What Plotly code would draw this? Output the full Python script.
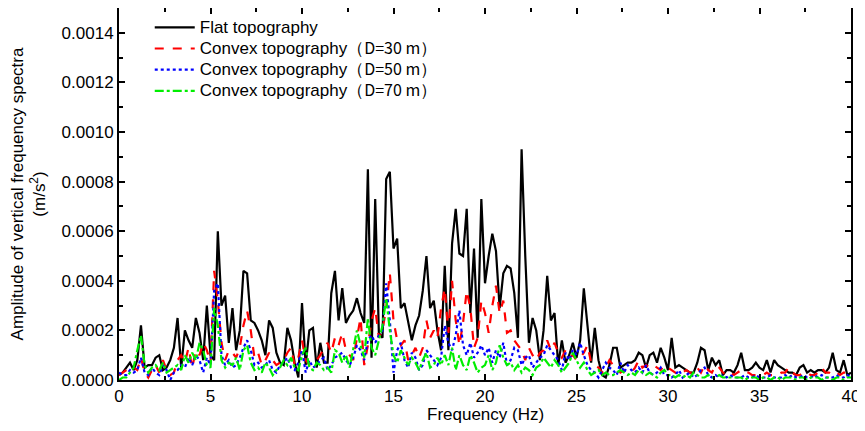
import plotly.graph_objects as go

# Frequency grid (Hz)
freq = [round(i * 0.2, 1) for i in range(201)]
SCALE = 1e-4  # values below are in units of 1e-4 m/s^2

flat = [
    0.2, 0.3, 0.5, 0.7, 0.4,
    0.8, 2.2, 0.5, 0.6, 0.6,
    0.9, 1.0, 0.4, 0.5, 0.8,
    1.3, 2.5, 0.5, 2.0, 1.6,
    1.3, 2.5, 1.9, 0.8, 3.0,
    1.0, 0.8, 6.0, 3.0, 3.4,
    1.5, 2.9, 1.2, 2.0, 4.4,
    4.3, 2.4, 2.3, 2.0, 1.6,
    1.0, 2.4, 2.1, 1.1, 0.7,
    0.6, 2.1, 1.6, 0.7, 0.1,
    3.1, 0.6, 2.0, 2.1, 0.5,
    1.5, 0.7, 0.7, 3.5, 4.4,
    2.4, 3.7, 2.3, 2.6, 2.8,
    3.3, 2.7, 2.3, 8.5, 0.9,
    7.3, 1.9, 1.7, 8.1, 8.4,
    5.3, 5.7, 2.9, 3.1, 2.4,
    1.6, 2.2, 2.6, 3.6, 5.0,
    2.9, 3.2, 2.0, 1.2, 4.6,
    1.2, 5.5, 6.9, 5.1, 5.0,
    6.9, 2.7, 5.3, 1.7, 7.3,
    3.9, 5.0, 5.9, 5.2, 2.9,
    4.3, 4.6, 4.5, 3.5, 1.7,
    9.3, 5.0, 1.5, 2.5, 2.0,
    0.8, 2.0, 4.2, 2.4, 2.7,
    0.6, 1.6, 0.7, 1.0, 1.5,
    0.9, 1.6, 3.7, 2.1, 0.7,
    2.1, 0.8, 0.2, 0.1, 0.6,
    1.3, 1.3, 0.5, 0.6, 0.7,
    0.7, 0.8, 1.1, 1.0, 0.5,
    1.0, 1.1, 0.7, 1.3, 0.9,
    0.4, 1.7, 0.5, 0.6, 0.5,
    0.4, 0.3, 0.3, 0.7, 1.3,
    1.2, 0.4, 0.9, 0.6, 0.8,
    0.2, 0.4, 0.4, 0.3, 0.6,
    1.1, 0.4, 0.4, 0.5, 0.7,
    0.5, 0.4, 0.8, 0.3, 0.8,
    0.6, 0.5, 0.4, 0.3, 0.3,
    0.2, 0.5, 0.6, 0.3, 0.4,
    0.3, 0.4, 0.4, 0.3, 0.5,
    1.1, 0.4, 0.3, 0.8, 0.2,
    0.3,
]

convex30 = [
    0.2, 0.3, 0.4, 0.5, 0.5,
    0.4, 0.9, 0.3, 0.1, 0.4,
    0.6, 0.3, 0.8, 0.4, 0.2,
    0.3, 0.8, 1.0, 0.7, 1.3,
    0.5, 1.2, 1.0, 1.5, 1.2,
    0.7, 4.4, 3.2, 1.5, 0.8,
    1.2, 1.1, 0.9, 1.3, 2.2,
    2.8, 2.0, 0.9, 1.1, 0.6,
    0.8, 1.1, 0.8, 0.6, 0.7,
    0.8, 1.1, 1.3, 0.6, 0.9,
    1.6, 0.8, 0.6, 0.7, 0.8,
    1.0, 1.3, 1.5, 1.1, 1.7,
    1.4, 1.9, 1.2, 1.0, 0.8,
    1.7, 2.5, 0.6, 1.4, 2.4,
    2.9, 1.7, 2.0, 2.9, 4.3,
    2.4, 1.6, 1.4, 1.6, 0.8,
    1.0, 1.3, 0.9, 1.3, 2.4,
    1.7, 2.0, 1.7, 2.9, 3.7,
    1.9, 4.0, 2.4, 1.4, 2.3,
    3.6, 2.9, 1.3, 1.7, 3.2,
    2.7, 1.9, 3.0, 3.8, 2.7,
    3.2, 1.9, 2.0, 1.6, 1.4,
    1.2, 0.8, 1.3, 1.0, 0.8,
    1.1, 1.2, 1.6, 1.2, 1.5,
    1.1, 0.9, 1.2, 0.9, 1.0,
    0.8, 0.9, 1.1, 1.4, 0.7,
    0.6, 0.5, 0.3, 0.5, 0.8,
    0.6, 0.5, 0.3, 0.4, 0.3,
    0.3, 0.5, 0.8, 0.5, 0.6,
    0.5, 0.6, 0.5, 0.4, 0.6,
    0.5, 0.4, 0.3, 0.2, 0.3,
    0.4, 0.3, 0.3, 0.5, 0.3,
    0.6, 0.4, 0.3, 0.6, 0.5,
    0.3, 0.2, 0.3, 0.2, 0.3,
    0.4, 0.3, 0.3, 0.2, 0.2,
    0.2, 0.2, 0.3, 0.2, 0.2,
    0.2, 0.3, 0.3, 0.5, 0.3,
    0.2, 0.2, 0.3, 0.3, 0.2,
    0.2, 0.3, 0.5, 0.3, 0.3,
    0.2, 0.3, 0.2, 0.3, 0.3,
    0.3,
]

convex50 = [
    0.3, 0.2, 0.2, 0.4, 0.3,
    0.4, 0.9, 0.3, 0.2, 0.5,
    0.3, 0.2, 0.6, 0.4, 0.0,
    0.3, 0.4, 0.6, 0.5, 0.9,
    0.6, 1.0, 0.8, 0.3, 0.9,
    0.6, 3.6, 3.9, 1.0, 0.6,
    0.8, 0.5, 0.6, 0.9, 1.3,
    1.6, 1.2, 0.6, 0.7, 0.5,
    0.6, 0.8, 0.4, 0.3, 0.6,
    0.7, 0.9, 0.5, 0.4, 0.7,
    1.2, 0.3, 0.8, 0.5, 0.6,
    0.8, 0.9, 0.4, 0.6, 0.9,
    1.0, 1.1, 0.8, 0.6, 0.9,
    1.4, 1.2, 0.8, 1.6, 1.8,
    1.5, 1.8, 2.0, 3.9, 2.4,
    0.3, 1.2, 1.5, 0.8, 0.5,
    1.1, 0.9, 0.4, 0.6, 1.2,
    1.0, 0.8, 0.6, 0.9, 2.2,
    1.5, 1.2, 1.8, 2.8, 1.4,
    1.0, 1.5, 0.9, 1.1, 1.4,
    1.0, 1.3, 0.7, 1.2, 0.9,
    1.5, 0.6, 0.8, 1.3, 1.2,
    0.6, 0.9, 1.0, 0.5, 0.7,
    0.9, 1.0, 1.4, 1.2, 1.0,
    0.8, 0.4, 1.1, 0.8, 1.2,
    1.0, 1.5, 1.0, 0.6, 0.4,
    0.3, 0.1, 0.4, 0.7, 0.5,
    0.4, 0.2, 0.7, 0.3, 0.6,
    0.4, 0.3, 0.5, 0.3, 0.6,
    0.3, 0.2, 0.3, 0.5, 0.2,
    0.2, 0.1, 0.2, 0.4, 0.1,
    0.2, 0.3, 0.1, 0.2, 0.4,
    0.5, 0.2, 0.1, 0.2, 0.1,
    0.2, 0.1, 0.2, 0.1, 0.1,
    0.1, 0.2, 0.1, 0.1, 0.2,
    0.1, 0.1, 0.1, 0.2, 0.1,
    0.1, 0.1, 0.2, 0.1, 0.2,
    0.1, 0.1, 0.2, 0.1, 0.1,
    0.2, 0.1, 0.2, 0.1, 0.1,
    0.1, 0.2, 0.1, 0.1, 0.2,
    0.1,
]

convex70 = [
    0.0, 0.1, 0.1, 0.3, 0.5,
    1.2, 1.8, 0.6, 0.3, 0.5,
    0.6, 0.4, 0.7, 0.3, 0.4,
    0.5, 0.6, 0.4, 1.0, 0.7,
    1.1, 0.8, 1.5, 1.2, 0.6,
    0.5, 2.9, 2.2, 0.8, 0.5,
    0.7, 0.6, 0.9, 0.4, 1.2,
    1.4, 0.7, 0.4, 0.5, 0.3,
    0.7, 0.5, 0.2, 0.4, 0.5,
    0.8, 0.6, 0.9, 0.5, 0.4,
    1.0, 1.3, 0.5, 0.4, 0.7,
    0.6, 0.4, 0.5, 0.3, 1.2,
    1.1, 0.7, 1.0, 0.5, 1.3,
    2.0, 1.4, 0.9, 2.5, 1.3,
    1.0, 1.6, 2.2, 3.3, 2.0,
    1.0, 0.7, 1.2, 0.9, 0.6,
    0.9, 0.7, 0.4, 0.8, 1.1,
    0.5, 0.6, 0.9, 0.6, 1.0,
    0.6, 1.3, 0.4, 1.0, 0.6,
    0.4, 1.0, 0.7, 0.3, 0.5,
    0.6, 1.0, 0.4, 0.7, 1.4,
    0.9, 0.6, 0.7, 0.4, 0.6,
    0.3, 0.5, 0.4, 0.2, 0.5,
    0.6, 0.9, 0.7, 0.5, 0.8,
    0.6, 0.3, 0.5, 0.7, 1.1,
    0.8, 0.5, 0.7, 0.4, 0.2,
    0.3, 0.4, 0.2, 0.3, 0.2,
    0.2, 0.3, 0.4, 0.3, 0.2,
    0.3, 0.2, 0.4, 0.3, 0.2,
    0.3, 0.2, 0.1, 0.3, 0.4,
    0.2, 0.2, 0.1, 0.2, 0.1,
    0.2, 0.1, 0.3, 0.2, 0.1,
    0.1, 0.2, 0.1, 0.1, 0.2,
    0.1, 0.1, 0.1, 0.1, 0.1,
    0.1, 0.0, 0.1, 0.1, 0.1,
    0.0, 0.1, 0.1, 0.0, 0.1,
    0.1, 0.0, 0.1, 0.1, 0.1,
    0.0, 0.1, 0.1, 0.0, 0.1,
    0.1, 0.1, 0.0, 0.1, 0.1,
    0.0, 0.1, 0.1, 0.0, 0.1,
    0.1,
]

_mono = "<span style=\"font-family:'Noto Sans CJK SC';font-size:16px\">"
series_names = [
    "<span style=\"font-size:17px\">Flat topography</span>",
    "<span style=\"font-size:17px\">Convex topography（" + _mono + "D=30 m</span>）</span>",
    "<span style=\"font-size:17px\">Convex topography（" + _mono + "D=50 m</span>）</span>",
    "<span style=\"font-size:17px\">Convex topography（" + _mono + "D=70 m</span>）</span>",
]
series_values = [flat, convex30, convex50, convex70]
series_colors = ["#000000", "#ff0000", "#0000ff", "#00ee00"]
series_dash = ["solid", "dash", "dot", "dashdot"]
series_width = [2.2, 2.2, 2.2, 2.2]

fig = go.Figure()
for name, vals, col, dash, w in zip(series_names, series_values, series_colors,
                                    series_dash, series_width):
    fig.add_trace(go.Scatter(
        x=freq, y=[v * SCALE for v in vals], mode="lines", name=name,
        line=dict(color=col, width=w, dash=dash),
    ))

axis_common = dict(
    showline=True, linecolor="black", linewidth=2, mirror="ticks",
    ticks="inside", ticklen=6, tickwidth=1.5, tickcolor="black",
    showgrid=False, zeroline=False, automargin=False,
    tickfont=dict(family="Liberation Sans, Arial", size=17, color="black"),
)

# The page body adds an 8px offset; figure size/margins compensate for it.
fig.update_layout(
    width=857, height=423,
    margin=dict(l=111, r=14, t=0, b=51, autoexpand=False),
    paper_bgcolor="white", plot_bgcolor="white",
    font=dict(family="Liberation Sans, Arial", size=17, color="black"),
    showlegend=True,
    legend=dict(
        x=0.042, y=0.99, xanchor="left", yanchor="top",
        bgcolor="rgba(0,0,0,0)", font=dict(size=14),
        tracegroupgap=0, itemwidth=40,
    ),
    xaxis=dict(
        range=[0, 40], dtick=5, tick0=0,
        minor=dict(ticks="inside", dtick=2.5, ticklen=4, tickcolor="black"),
        **axis_common,
    ),
    yaxis=dict(
        range=[0, 0.0015], dtick=0.0002, tick0=0, tickformat=".4f",
        title=dict(text="Amplitude of vertical frequency spectra<br>(m/s<sup>2</sup>)",
                   font=dict(size=17), standoff=20),
        minor=dict(ticks="inside", dtick=0.0001, ticklen=4, tickcolor="black"),
        **axis_common,
    ),
    annotations=[dict(
        text="Frequency (Hz)", xref="paper", yref="paper", x=0.5, y=-0.092,
        xanchor="center", yanchor="middle", showarrow=False,
        font=dict(size=17, color="black"),
    )],
)

fig.write_html("out.html")
